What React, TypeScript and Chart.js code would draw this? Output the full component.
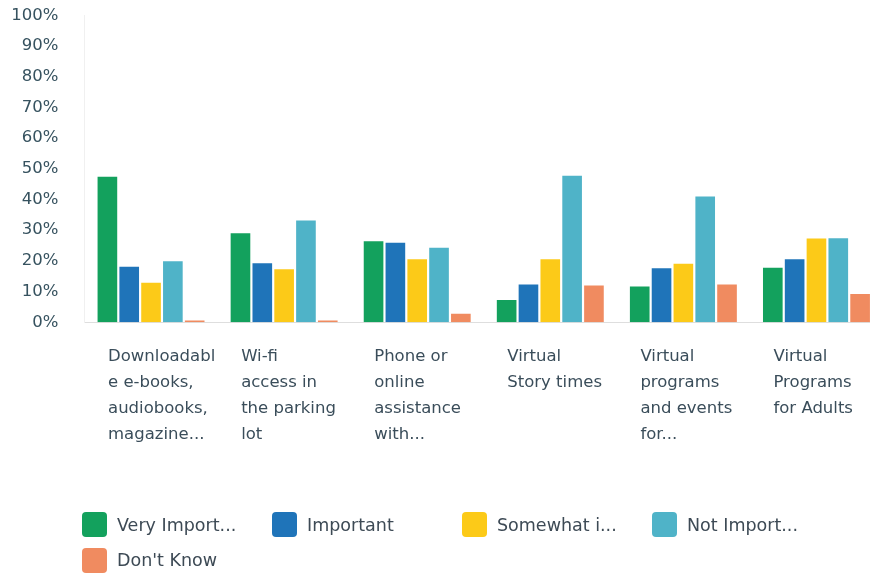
import React, { useEffect, useRef } from "react";
import { Chart, registerables } from "chart.js";

Chart.register(...registerables);

const categories: string[][] = [
  ["Downloadabl", "e e-books,", "audiobooks,", "magazine..."],
  ["Wi-fi", "access in", "the parking", "lot"],
  ["Phone or", "online", "assistance", "with..."],
  ["Virtual", "Story times"],
  ["Virtual", "programs", "and events", "for..."],
  ["Virtual", "Programs", "for Adults"],
];

const seriesLabels = ["Very Import...", "Important", "Somewhat i...", "Not Import...", "Don't Know"];
const seriesColors = ["#13a15d", "#1f74b9", "#fcca18", "#4fb3c8", "#f08b60"];

const veryImportant = [47.4, 29.0, 26.4, 7.3, 11.7, 17.8];
const important = [18.1, 19.2, 25.9, 12.3, 17.6, 20.5];
const somewhatImportant = [12.9, 17.3, 20.5, 20.5, 19.1, 27.3];
const notImportant = [19.9, 33.2, 24.3, 47.7, 41.0, 27.4];
const dontKnow = [0.6, 0.6, 2.8, 12.0, 12.3, 9.2];

const seriesValues = [veryImportant, important, somewhatImportant, notImportant, dontKnow];

const yTicks = [0, 10, 20, 30, 40, 50, 60, 70, 80, 90, 100];

const FONT = "'DejaVu Sans', sans-serif";

function clearPadding(scale: any) {
  scale.paddingTop = 0;
  scale.paddingBottom = 0;
  scale.paddingLeft = 0;
  scale.paddingRight = 0;
}

export default function App() {
  const canvasRef = useRef<HTMLCanvasElement | null>(null);

  useEffect(() => {
    document.body.style.margin = "0";
    const canvas = canvasRef.current;
    if (!canvas) return;
    const chart = new Chart(canvas, {
      type: "bar",
      data: {
        labels: categories,
        datasets: seriesValues.map((vals, i) => ({
          label: seriesLabels[i],
          data: vals,
          backgroundColor: seriesColors[i],
          borderWidth: 0,
          categoryPercentage: 0.82,
          barPercentage: 0.9,
        })),
      },
      options: {
        animation: false,
        responsive: false,
        devicePixelRatio: 1,
        layout: { padding: { top: 15.3, left: 0, right: 0, bottom: 0 } },
        plugins: {
          legend: { display: false },
          tooltip: { enabled: false },
        },
        scales: {
          x: {
            grid: { display: false, drawTicks: false },
            border: { display: true, color: "#dedede", width: 1 },
            ticks: {
              autoSkip: false,
              maxRotation: 0,
              minRotation: 0,
              align: "start",
              labelOffset: -43,
              padding: 21,
              color: "#3a4d5a",
              font: { family: FONT, size: 16.5, lineHeight: 1.59 },
            },
            afterFit: (scale: any) => {
              scale.height = 252.7;
              clearPadding(scale);
            },
          },
          y: {
            min: 0,
            max: 100,
            grid: { display: false, drawTicks: false },
            border: { display: true, color: "#f0f0f0", width: 1 },
            afterBuildTicks: (scale: any) => {
              scale.ticks = yTicks.map((v) => ({ value: v }));
            },
            ticks: {
              padding: 26,
              color: "#36525f",
              font: { family: FONT, size: 16.5 },
              callback: (v: any) => `${v}%`,
            },
            afterFit: (scale: any) => {
              scale.width = 84.5;
              clearPadding(scale);
            },
          },
        },
      },
    });
    return () => chart.destroy();
  }, []);

  return (
    <div style={{ position: "relative", width: 870, height: 575, overflow: "hidden", background: "#fff" }}>
      <canvas ref={canvasRef} width={883} height={575} style={{ display: "block", width: 883, height: 575 }} />
      <div
        style={{
          position: "absolute",
          left: 82,
          top: 512,
          display: "grid",
          gridTemplateColumns: "190px 190px 190px 190px",
          gridAutoRows: "35.5px",
          fontFamily: FONT,
          fontSize: 17.5,
          color: "#3d4a55",
        }}
      >
        {seriesLabels.map((lab, i) => (
          <div key={lab} style={{ display: "flex", alignItems: "center", height: 25 }}>
            <span
              style={{
                display: "inline-block",
                width: 25,
                height: 25,
                borderRadius: 4,
                background: seriesColors[i],
                marginRight: 10,
                flex: "none",
              }}
            />
            <span style={{ whiteSpace: "nowrap" }}>{lab}</span>
          </div>
        ))}
      </div>
    </div>
  );
}
